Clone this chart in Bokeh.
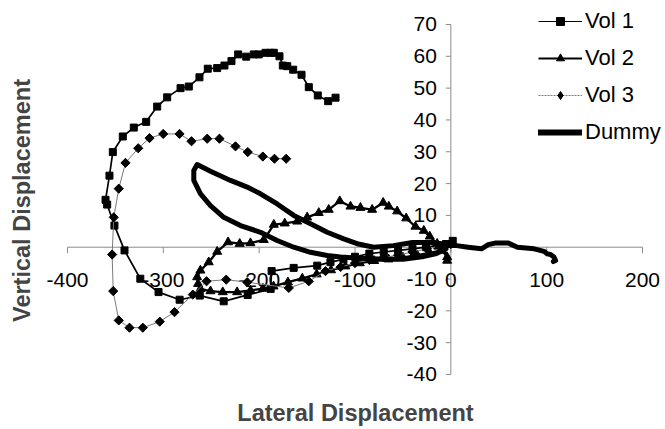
import numpy as np
from bokeh.plotting import figure
from bokeh.models import Range1d, Legend, LegendItem, Label
from bokeh.core.properties import value
from bokeh.embed import file_html
from bokeh.resources import INLINE

# ---------------- data ----------------
series_names = ["Vol 1", "Vol 2", "Vol 3", "Dummy"]

vol1_x = [2, -5, -14, -26, -40, -55, -70, -85, -100, -112, -125.6, -139.4, -164, -187,
          -188, -212, -237, -262, -283, -305, -324, -340.5, -351, -358.6, -360.3, -356.2,
          -352.7, -342.3, -330.8, -317.9, -306.4, -296, -282, -273.4, -262.3, -253.6,
          -243.8, -236.2, -228.9, -221.9, -213.5, -205.6, -200.4, -193.4, -188.2, -184.7,
          -178.8, -175.3, -170.7, -164.5, -155.8, -148.2, -138.8, -128, -120.3]
vol1_y = [2, 1, 0.5, 0, -0.5, -1, -1.5, -2, -3, -3.8, -4.7, -5.8, -6.5, -7.5,
          -13.1, -15, -17, -15.2, -16.5, -14.1, -9.9, -1, 6.8, 13.4, 14.9, 22.5,
          29.9, 34.8, 37.6, 39.4, 44.2, 47.1, 50, 50.5, 53.4, 56.1,
          56.3, 57.1, 58.5, 60.6, 59.9, 60.6, 60.6, 61.1, 61.1, 61.1,
          60, 57.1, 56.9, 55.8, 54.2, 50.3, 47.7, 45.9, 47]

vol2_x = [-10, -22, -35, -50, -65, -80, -95, -110, -125, -140, -155, -170, -185, -196,
          -209, -223, -238, -250.8, -261.3, -263.7, -264.7, -261.3, -252.6, -243.8,
          -232.4, -220.3, -209.1, -195.2, -184.7, -173.3, -160.3, -149.9, -137.8,
          -127.4, -115.9, -104.7, -94.3, -82.1, -70.6, -64.7, -56, -46.6, -36.9,
          -28.2, -22, -14.3, -9.1, -3.8, -3.8]
vol2_y = [-1, -1.8, -2.5, -3.2, -3.8, -4.3, -5, -6, -7.2, -8.5, -9.8, -11, -12.3, -13,
          -13.6, -14.1, -14.1, -13.8, -13.1, -11.5, -9.4, -7.3, -4.7, -1.4,
          1.6, 1.1, 1.3, 2.3, 7.1, 7.5, 8.1, 9.4, 10.8,
          11.8, 14.5, 12.8, 12.4, 11.8, 14, 12.8, 11.3, 9.1, 6.5,
          5.2, 3.4, 1.1, -1, -3.1, -4.2]

vol3_x = [0, -12, -25, -40, -55, -70, -85, -100, -115, -130.8, -148.2, -169.1, -212.5,
          -234.4, -254.9, -269.2, -288.3, -303.7, -321.4, -335.3, -346.5, -352.3,
          -353.4, -351.7, -346.5, -339.5, -326.2, -314.4, -300.1, -283.1, -270.6,
          -254.2, -241.4, -224.7, -211.9, -196.2, -184, -171.8]
vol3_y = [1, 0.3, -0.5, -1.5, -2.5, -3.2, -4, -5, -6.2, -7.5, -10.7, -12.8, -11,
          -10.2, -10.7, -14.9, -20.4, -23.4, -25.3, -25.3, -23, -13.8,
          -2.3, 9.4, 18.4, 26.5, 31.1, 34.3, 35.6, 35.6, 33.3,
          34.1, 34.1, 31.7, 29.9, 28.5, 27.8, 27.8]

dummy_x = [-5, -15, -30, -50, -70, -95, -115.1, -129, -146.4, -163.9, -181.2, -198.6,
           -219.5, -236.9, -250.8, -261.2, -268.2, -268.2, -264.7, -250.8, -229.9,
           -212.5, -198.6, -181.2, -163.9, -146.4, -129, -111.7, -97.8, -80.4, -60,
           -40, -20, -8, 0, 6, 18, 32, 39, 46, 60, 69.5, 87, 97.2, 100.8, 104, 107.6,
           109.3, 107]
dummy_y = [-0.5, -2, -3, -3.8, -3.8, -3.5, -3.1, -2.6, -1.6, 0, 2.1, 4.7,
           6.8, 9.4, 13.1, 16.8, 21, 24.1, 26, 23.9, 21,
           18.9, 16.8, 13.6, 10, 7.4, 4.7, 2.6, 1.1, 0, 0.5,
           1.5, 1.5, 1, 0.5, 0.5, 0, -0.5, 0.8, 1.3, 1.3, 0, -0.5, -1.3, -2.1, -2.3, -3.1,
           -4.2, -4.5]

x_ticks = [-400, -300, -200, -100, 0, 100, 200]
x_tick_labels = ["-400", "-300", "-200", "-100", "0", "100", "200"]
y_ticks = [-40, -30, -20, -10, 0, 10, 20, 30, 40, 50, 60, 70]
y_tick_labels = ["-40", "-30", "-20", "-10", "", "10", "20", "30", "40", "50", "60", "70"]
x_title = "Lateral Displacement"
y_title = "Vertical Displacement"

# ---------------- figure ----------------
W, H = 665, 429
X0, X1 = -469.9, 224.0
Y0, Y1 = -57.29, 77.54
FONT = "Liberation Sans"

p = figure(width=W, height=H, x_range=Range1d(X0, X1), y_range=Range1d(Y0, Y1),
           x_axis_type=None, y_axis_type=None, toolbar_location=None,
           output_backend="svg", min_border=0)
p.outline_line_color = None
p.background_fill_color = "white"
p.border_fill_color = "white"

px_x = W / (X1 - X0)
px_y = H / (Y1 - Y0)
AX = "#8c8c8c"

# axes crossing at the origin
p.line(x=[min(x_ticks), max(x_ticks)], y=[0, 0], line_color=AX, line_width=1)
p.line(x=[0, 0], y=[min(y_ticks), max(y_ticks)], line_color=AX, line_width=1)
p.segment(x0=x_ticks, x1=x_ticks, y0=[0] * len(x_ticks),
          y1=[-6 / px_y] * len(x_ticks), line_color=AX, line_width=1)
p.segment(x0=[0] * len(y_ticks), x1=[-5 / px_x] * len(y_ticks), y0=y_ticks, y1=y_ticks,
          line_color=AX, line_width=1)

p.text(x=x_ticks, y=[0] * len(x_ticks), text=x_tick_labels, y_offset=33,
       text_align="center", text_baseline="middle", text_font=value(FONT),
       text_font_size="21px", text_color="black")
p.text(x=[0] * len(y_ticks), y=y_ticks, text=y_tick_labels, x_offset=-14,
       text_align="right", text_baseline="middle", text_font=value(FONT),
       text_font_size="21px", text_color="black")

# series
r1l = p.line(vol1_x, vol1_y, line_color="black", line_width=1.7, line_join="round")
r1m = p.scatter(vol1_x, vol1_y, marker="square", size=7, color="black")
r2l = p.line(vol2_x, vol2_y, line_color="black", line_width=2.3, line_join="round")
r2m = p.scatter(vol2_x, vol2_y, marker="triangle", size=9, color="black")
r3l = p.line(vol3_x, vol3_y, line_color="#7a7a7a", line_width=1, line_join="round")
r3m = p.scatter(vol3_x, vol3_y, marker="square", angle=np.pi / 4, size=6.5, color="black")
r4l = p.line(dummy_x, dummy_y, line_color="black", line_width=5, line_join="round",
             line_cap="round")

# key-only glyphs (a single NaN point, never drawn in the plot)
nan = [np.nan]
k1l = p.line(x=nan, y=nan, line_color="black", line_width=1.2)
k1m = p.scatter(x=nan, y=nan, marker="square", size=5.5, color="black")
k2l = p.line(x=nan, y=nan, line_color="black", line_width=2.2)
k2m = p.scatter(x=nan, y=nan, marker="triangle", size=8, color="black")
k3l = p.line(x=nan, y=nan, line_color="#7a7a7a", line_width=1, line_dash="2 1")
k3m = p.scatter(x=nan, y=nan, marker="diamond", size=10, color="black")
k4l = p.line(x=nan, y=nan, line_color="black", line_width=6, line_cap="round")

legend = Legend(items=[LegendItem(label=series_names[0], renderers=[k1l, k1m]),
                       LegendItem(label=series_names[1], renderers=[k2l, k2m]),
                       LegendItem(label=series_names[2], renderers=[k3l, k3m]),
                       LegendItem(label=series_names[3], renderers=[k4l])],
                location=(538, 279), glyph_width=44, glyph_height=20, label_height=37,
                spacing=0, padding=0, margin=0, label_standoff=3, label_text_font=FONT,
                label_text_font_size="22px", label_text_color="black",
                border_line_color=None, background_fill_alpha=0)
p.add_layout(legend)

p.add_layout(Label(x=355, y=17, x_units="screen", y_units="screen", text=x_title,
                   text_align="center", text_baseline="middle", text_font=FONT,
                   text_font_size="23.5px", text_font_style="bold"))
p.add_layout(Label(x=21, y=229, x_units="screen", y_units="screen", text=y_title,
                   angle=np.pi / 2, text_align="center", text_baseline="middle",
                   text_font=FONT, text_font_size="23.5px", text_font_style="bold"))

open("out.html", "w").write(file_html(p, INLINE))
